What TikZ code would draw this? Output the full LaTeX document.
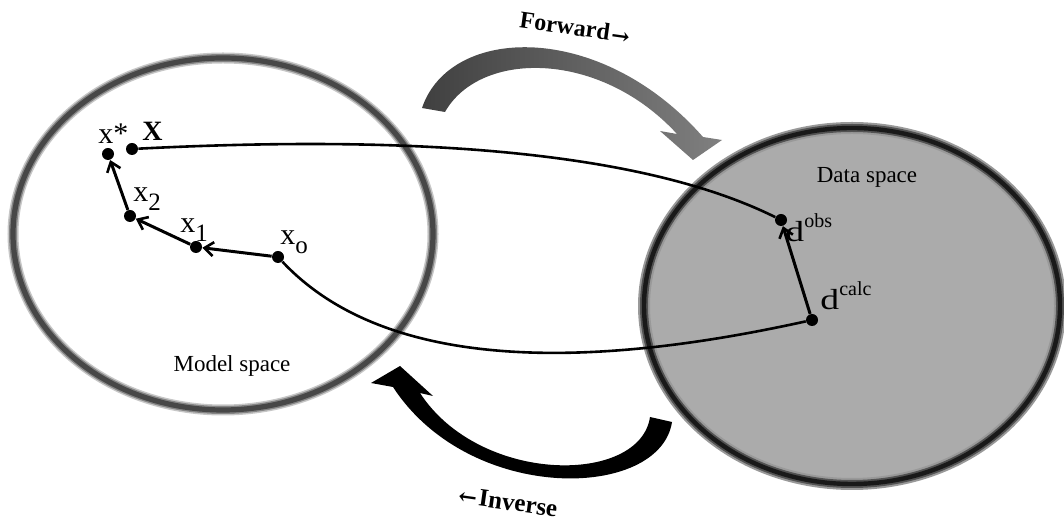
\documentclass[tikz,border=0pt]{standalone}
\usepackage{fontspec}
\setmainfont{Liberation Serif}
\newfontfamily\arrowfont{DejaVu Serif}
\usetikzlibrary{arrows.meta}
\usetikzlibrary{positioning}

\newcommand{\lowidx}[2]{#1\raisebox{-4.5pt}{\fontsize{12.5}{12.5}\selectfont #2}}
\newcommand{\highidx}[2]{\scalebox{1.3}[1]{#1}\raisebox{7pt}{\fontsize{10}{10}\selectfont #2}}

\tikzset{
  dot/.style={circle,fill=black,inner sep=0pt,minimum size=6pt},
  stepline/.style={line width=1.5pt,-{Straight Barb[length=4.5pt,width=7pt,line width=1.3pt]}},
  link/.style={line width=1.3pt},
  lab/.style={inner sep=0pt,anchor=base west,font=\fontsize{15}{15}\selectfont},
  dlab/.style={inner sep=0pt,anchor=base west,font=\fontsize{14.5}{14.5}\selectfont},
  spacelab/.style={font=\fontsize{11.5}{12}\selectfont},
  bigword/.style={rotate=-8,inner sep=1pt,font=\fontsize{12}{12}\bfseries\selectfont},
}

\begin{document}
\begin{tikzpicture}[x=0.5pt,y=-0.5pt]
\useasboundingbox (0,0) rectangle (1064,522);
% model space and data space
\foreach \w/\g in {5.5/22,4/48,2.6/72}
  \draw[black!\g,line width=\w pt] (223,234) ellipse [x radius=210,y radius=176];
\fill[black!33] (852,306) ellipse [x radius=208,y radius=178];
\foreach \w/\g in {6/40,4/68,2.2/90}
  \draw[black!\g,line width=\w pt] (852,306) ellipse [x radius=208,y radius=178];
\node[spacelab] (mlab) at (232,366) {Model space};
\node[spacelab] (dlab) at (867,177) {Data space};

% forward and inverse
\shade[left color=black!75,right color=black!50] (422,108) .. controls (450,25) and (600,20) .. (703,137)
  -- (722,140) -- (693,160) -- (660,131) -- (677,134) .. controls (600,50) and (480,50) .. (445,112) -- cycle;
\fill[black] (672,422) .. controls (660,500) and (470,505) .. (393,387)
  -- (371,383) -- (400,366) -- (433,396) -- (420,393) .. controls (480,485) and (640,485) .. (650,417) -- cycle;
\node[bigword] (fwd) at (575,28) {Forward\kern1pt{\arrowfont\fontsize{11}{11}\selectfont\raisebox{-1pt}{→}}};
\node[bigword,font=\fontsize{12.5}{12.5}\bfseries\selectfont] (inv) at (508,502) {{\arrowfont\fontsize{11}{11}\selectfont ←}\kern1pt Inverse};

% points
\node[dot] (xs) at (108,154) {};
\node[dot] (X) at (132,149) {};
\node[dot] (x2) at (130,216) {};
\node[dot] (x1) at (196,247) {};
\node[dot] (x0) at (278,257) {};
\node[dot] (dobs) at (781,220) {};
\node[dot] (dcalc) at (812,320) {};

\node[lab] (xsl) at (98,144) {x*};
\node[lab,font=\fontsize{14}{14}\bfseries\selectfont] (Xl) at (142,141) {X};
\node[lab] (x2l) at (133,202) {\lowidx{x}{2}};
\node[lab] (x1l) at (180,233) {\lowidx{x}{1}};
\node[lab] (x0l) at (280,245) {\lowidx{x}{o}};
\node[dlab] (dobsl) at (785,242) {\highidx{d}{obs}};
\node[dlab] (dcalcl) at (820,310) {\highidx{d}{calc}};

\draw[stepline] (x0) -- (x1);
\draw[stepline] (x1) -- (x2);
\draw[stepline] (x2) -- (xs);
\draw[stepline] (dcalc) -- (dobs);
\draw[link] (X) .. controls (350,138) and (620,140) .. (dobs);
\draw[link] (x0) .. controls (370,355) and (540,380) .. (dcalc);
\end{tikzpicture}
\end{document}
